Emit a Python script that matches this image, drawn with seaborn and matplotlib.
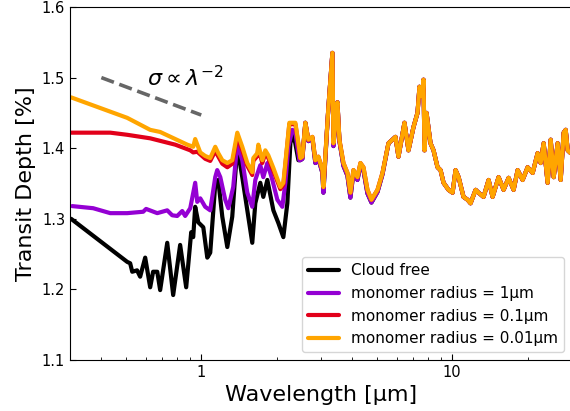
import numpy as np
import pandas as pd
import seaborn as sns
import matplotlib
matplotlib.use('Agg')
import matplotlib.pyplot as plt
from matplotlib.ticker import FuncFormatter, NullFormatter

# short-wavelength part, one per model (µm, %)
wl_clear = [0.303, 0.507, 0.521, 0.531, 0.555, 0.571, 0.598, 0.626, 0.643, 0.668,
            0.686, 0.732, 0.773, 0.824, 0.871, 0.912, 0.929, 0.946, 0.973, 1.019,
            1.057, 1.086, 1.137, 1.169, 1.213, 1.270, 1.329, 1.392, 1.457, 1.526,
            1.597, 1.642, 1.719, 1.767, 1.834, 1.938, 2.029, 2.124, 2.203, 2.265,
            2.328, 2.438]
td_clear = [1.300, 1.239, 1.237, 1.225, 1.227, 1.218, 1.245, 1.203, 1.225, 1.225,
            1.199, 1.266, 1.192, 1.263, 1.203, 1.281, 1.274, 1.317, 1.295, 1.288,
            1.245, 1.252, 1.349, 1.355, 1.303, 1.260, 1.303, 1.402, 1.359, 1.312,
            1.266, 1.322, 1.351, 1.331, 1.355, 1.312, 1.294, 1.274, 1.322, 1.407,
            1.422, 1.383]

wl_r1 = [0.306, 0.371, 0.434, 0.507, 0.587, 0.603, 0.668, 0.732, 0.766, 0.802,
         0.840, 0.863, 0.904, 0.946, 0.964, 0.991, 1.037, 1.086, 1.137, 1.158,
         1.191, 1.246, 1.282, 1.341, 1.392, 1.457, 1.526, 1.597, 1.642, 1.719,
         1.767, 1.834, 1.920, 2.010, 2.104, 2.163, 2.223, 2.307, 2.372, 2.460]
td_r1 = [1.318, 1.315, 1.308, 1.308, 1.310, 1.314, 1.308, 1.312, 1.305, 1.304,
         1.311, 1.304, 1.315, 1.351, 1.324, 1.329, 1.317, 1.312, 1.359, 1.369,
         1.359, 1.327, 1.315, 1.345, 1.407, 1.383, 1.337, 1.317, 1.355, 1.376,
         1.359, 1.379, 1.355, 1.327, 1.317, 1.351, 1.402, 1.426, 1.422, 1.383]

wl_r01 = [0.303, 0.434, 0.507, 0.626, 0.788, 0.904, 0.929, 0.964, 1.037, 1.086,
          1.137, 1.213, 1.270, 1.329, 1.392, 1.457, 1.526, 1.597, 1.612, 1.673,
          1.688, 1.751, 1.800, 1.850, 1.938, 2.066, 2.124, 2.203, 2.244, 2.372,
          2.438]
td_r01 = [1.422, 1.422, 1.419, 1.414, 1.405, 1.397, 1.394, 1.395, 1.385, 1.382,
          1.396, 1.378, 1.373, 1.378, 1.416, 1.397, 1.375, 1.362, 1.382, 1.389,
          1.400, 1.379, 1.393, 1.386, 1.368, 1.342, 1.348, 1.405, 1.434, 1.434,
          1.405]

wl_r001 = [0.303, 0.507, 0.626, 0.686, 0.880, 0.929, 0.946, 0.991, 1.037, 1.086,
           1.137, 1.169, 1.213, 1.270, 1.329, 1.392, 1.457, 1.526, 1.597, 1.612,
           1.673, 1.688, 1.751, 1.800, 1.850, 1.938, 2.066, 2.124, 2.203, 2.244,
           2.372, 2.438]
td_r001 = [1.472, 1.443, 1.426, 1.423, 1.405, 1.402, 1.413, 1.394, 1.389, 1.386,
           1.402, 1.393, 1.383, 1.379, 1.383, 1.422, 1.402, 1.379, 1.366, 1.386,
           1.393, 1.405, 1.383, 1.397, 1.390, 1.372, 1.345, 1.351, 1.407, 1.436,
           1.436, 1.407]

# long-wavelength part, where all models nearly overlap
wl_long = [2.483, 2.529, 2.599, 2.672, 2.772, 2.849, 2.929, 3.039, 3.067, 3.182,
           3.211, 3.331, 3.362, 3.424, 3.488, 3.552, 3.686, 3.824, 3.929, 4.040,
           4.191, 4.307, 4.428, 4.594, 4.766, 5.037, 5.273, 5.571, 5.940, 6.106,
           6.452, 6.694, 7.009, 7.271, 7.406, 7.612, 7.683, 7.754, 7.898, 8.193,
           8.423, 8.738, 8.981, 9.233, 9.667, 10.03, 10.31, 10.60, 11.09, 11.51,
           11.83, 12.39, 12.73, 13.33, 13.96, 14.48, 15.30, 16.02, 16.77, 17.56,
           18.22, 19.07, 19.97, 20.91, 21.89, 22.50, 23.13, 23.99, 24.67, 25.36,
           26.30, 27.04, 27.79, 28.31, 28.84, 29.64]
td_long_small = [1.386, 1.388, 1.436, 1.412, 1.416, 1.383, 1.388, 1.369, 1.345, 1.436,
                 1.458, 1.535, 1.407, 1.436, 1.465, 1.412, 1.379, 1.365, 1.337, 1.369,
                 1.359, 1.379, 1.373, 1.341, 1.327, 1.341, 1.365, 1.407, 1.416, 1.388,
                 1.436, 1.397, 1.430, 1.450, 1.487, 1.473, 1.497, 1.397, 1.450, 1.407,
                 1.397, 1.373, 1.369, 1.351, 1.341, 1.337, 1.369, 1.359, 1.331, 1.327,
                 1.322, 1.341, 1.337, 1.331, 1.355, 1.331, 1.359, 1.341, 1.358, 1.341,
                 1.369, 1.355, 1.373, 1.365, 1.393, 1.379, 1.407, 1.351, 1.412, 1.359,
                 1.407, 1.355, 1.422, 1.426, 1.397, 1.393]
td_long_large = [1.383, 1.385, 1.436, 1.410, 1.414, 1.379, 1.385, 1.365, 1.337, 1.436,
                 1.458, 1.535, 1.403, 1.436, 1.465, 1.410, 1.375, 1.361, 1.330, 1.366,
                 1.355, 1.376, 1.369, 1.336, 1.323, 1.338, 1.363, 1.407, 1.416, 1.388,
                 1.436, 1.397, 1.430, 1.450, 1.487, 1.473, 1.497, 1.397, 1.450, 1.407,
                 1.397, 1.373, 1.369, 1.351, 1.341, 1.337, 1.369, 1.359, 1.331, 1.327,
                 1.322, 1.341, 1.337, 1.331, 1.355, 1.331, 1.359, 1.341, 1.358, 1.341,
                 1.369, 1.355, 1.373, 1.365, 1.393, 1.379, 1.407, 1.351, 1.412, 1.359,
                 1.407, 1.355, 1.422, 1.426, 1.397, 1.393]

labels = ['Cloud free', 'monomer radius = 1µm', 'monomer radius = 0.1µm',
          'monomer radius = 0.01µm']
colors = ['black', '#9400D3', '#E2001A', '#FFA500']

# reference slope line and its label
slope_wl = [0.4, 1.0]
slope_td = [1.500, 1.447]

sns.set_style('ticks', {'xtick.direction': 'in', 'ytick.direction': 'in',
                        'axes.edgecolor': 'black', 'text.color': 'black',
                        'axes.labelcolor': 'black', 'xtick.color': 'black',
                        'ytick.color': 'black'})
plt.rcParams['font.family'] = ['DejaVu Sans']

fig = plt.figure(figsize=(5.7, 4.11), dpi=100)
ax = fig.add_axes([70 / 570, 51 / 411, 502 / 570, 353 / 411])

series = [
    (wl_clear, td_clear, td_long_large),
    (wl_r1, td_r1, td_long_large),
    (wl_r01, td_r01, td_long_small),
    (wl_r001, td_r001, td_long_small),
]
for (wl, td, td_long), lab, col in zip(series, labels, colors):
    df = pd.DataFrame({'wl': list(wl) + wl_long, 'td': list(td) + td_long})
    sns.lineplot(data=df, x='wl', y='td', color=col, lw=3, label=lab, ax=ax)

ax.plot(slope_wl, slope_td, ls='--', color='#666666', lw=2.6)
ax.text(0.61, 1.488, r'$\sigma \propto \lambda^{-2}$', fontsize=16, color='black')

ax.set_xscale('log')
ax.set_xlim(0.3, 30)
ax.set_ylim(1.1, 1.6)
ax.set_yticks([1.1, 1.2, 1.3, 1.4, 1.5, 1.6])
ax.xaxis.set_major_formatter(FuncFormatter(lambda v, p: f'{v:g}'))
ax.xaxis.set_minor_formatter(NullFormatter())
ax.tick_params(which='both', direction='in', labelsize=10.5, colors='black')
ax.tick_params(which='major', length=4)
ax.tick_params(which='minor', length=2.5)

ax.set_xlabel('Wavelength [µm]', fontsize=16, color='black')
ax.set_ylabel('Transit Depth [%]', fontsize=16, color='black')
leg = ax.legend(loc='lower right', fontsize=11)
for t in leg.get_texts():
    t.set_color('black')

fig.savefig('out.png', dpi=100)
